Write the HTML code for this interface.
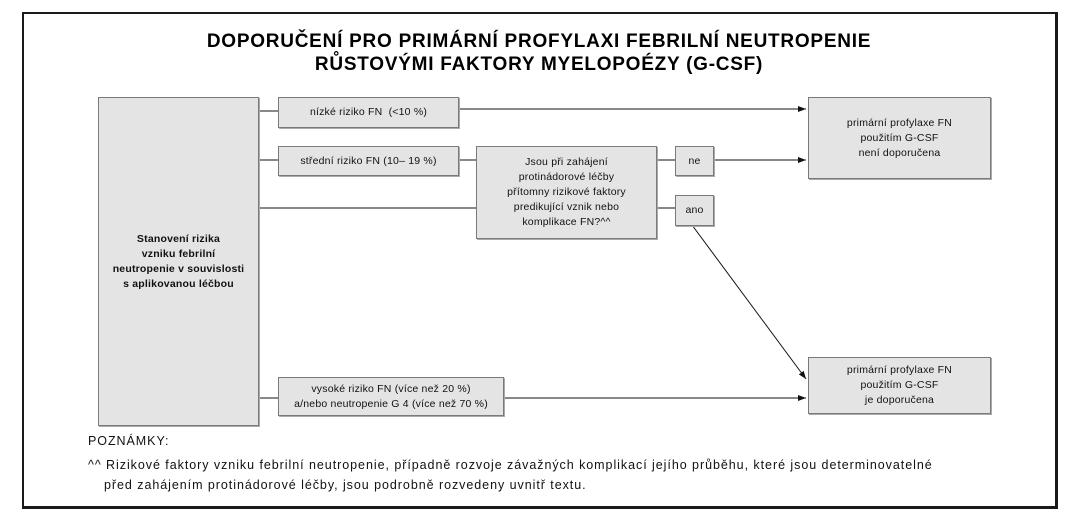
<!DOCTYPE html>
<html><head><meta charset="utf-8"><style>
body{margin:0;width:1078px;height:527px;background:#fff;position:relative;overflow:hidden;font-family:"Liberation Sans",sans-serif;}
.frame{position:absolute;left:22px;top:12px;width:1031px;height:492px;border:2px solid #1a1a1a;border-right-width:3px;border-bottom-width:3px;}
.b{position:absolute;background:#e4e4e4;border:1px solid #7a7a7a;box-shadow:1px 1px 0 #aaa;display:flex;align-items:center;justify-content:center;text-align:center;font-size:10.5px;line-height:15px;color:#111;box-sizing:border-box;letter-spacing:0.2px;}
.t{position:absolute;left:0;width:1078px;text-align:center;font-weight:bold;font-size:19px;color:#000;letter-spacing:0.75px;}
.n{position:absolute;font-size:12.5px;color:#111;letter-spacing:0.95px;}
svg{position:absolute;left:0;top:0;}
</style></head><body>
<div class="frame"></div>
<div class="t" style="top:31px">DOPORUČENÍ PRO PRIMÁRNÍ PROFYLAXI FEBRILNÍ NEUTROPENIE</div>
<div class="t" style="top:54px">RŮSTOVÝMI FAKTORY MYELOPOÉZY (G-CSF)</div>
<svg width="1078" height="527">
<defs><marker id="a" markerWidth="8" markerHeight="6" refX="8" refY="3" orient="auto" markerUnits="userSpaceOnUse"><path d="M0,0 L8,3 L0,6 z" fill="#111"/></marker></defs>
<g stroke="#111" stroke-width="1" fill="none">
<line x1="258" y1="111" x2="278" y2="111"/>
<line x1="458" y1="109" x2="806" y2="109" marker-end="url(#a)"/>
<line x1="258" y1="160" x2="278" y2="160"/>
<line x1="458" y1="160" x2="476" y2="160"/>
<line x1="258" y1="208" x2="476" y2="208"/>
<line x1="656" y1="160" x2="675" y2="160"/>
<line x1="713" y1="160" x2="806" y2="160" marker-end="url(#a)"/>
<line x1="656" y1="208" x2="675" y2="208"/>
<line x1="692" y1="225" x2="806" y2="379" marker-end="url(#a)"/>
<line x1="258" y1="398" x2="278" y2="398"/>
<line x1="503" y1="398" x2="806" y2="398" marker-end="url(#a)"/>
</g></svg>
<div class="b" style="left:98px;top:97px;width:161px;height:329px;font-weight:bold;font-size:10.5px">Stanovení rizika<br>vzniku febrilní<br>neutropenie v souvislosti<br>s aplikovanou léčbou</div>
<div class="b" style="left:278px;top:97px;width:181px;height:31px">nízké riziko FN &nbsp;(&lt;10 %)</div>
<div class="b" style="left:278px;top:146px;width:181px;height:30px">střední riziko FN (10– 19 %)</div>
<div class="b" style="left:476px;top:146px;width:181px;height:93px">Jsou při zahájení<br>protinádorové léčby<br>přítomny rizikové faktory<br>predikující vznik nebo<br>komplikace FN?^^</div>
<div class="b" style="left:675px;top:146px;width:39px;height:30px">ne</div>
<div class="b" style="left:675px;top:195px;width:39px;height:31px">ano</div>
<div class="b" style="left:808px;top:97px;width:183px;height:82px">primární profylaxe FN<br>použitím G-CSF<br>není doporučena</div>
<div class="b" style="left:808px;top:357px;width:183px;height:57px">primární profylaxe FN<br>použitím G-CSF<br>je doporučena</div>
<div class="b" style="left:278px;top:377px;width:226px;height:39px">vysoké riziko FN (více než 20 %)<br>a/nebo neutropenie G 4 (více než 70 %)</div>
<div class="n" style="left:88px;top:434px">POZNÁMKY:</div>
<div class="n" style="left:88px;top:458px">^^ Rizikové faktory vzniku febrilní neutropenie, případně rozvoje závažných komplikací jejího průběhu, které jsou determinovatelné</div>
<div class="n" style="left:104px;top:478px">před zahájením protinádorové léčby, jsou podrobně rozvedeny uvnitř textu.</div>
</body></html>
